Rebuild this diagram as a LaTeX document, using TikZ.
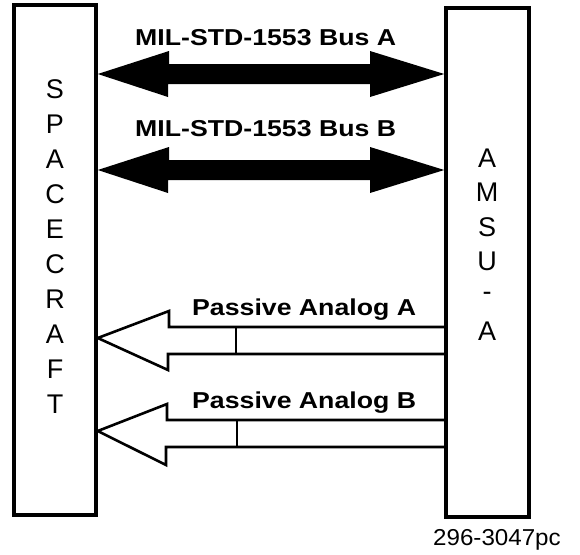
\documentclass[tikz,border=0pt]{standalone}
\usepackage{fontspec}
\setmainfont{Liberation Sans}
\newfontfamily\labfont{Liberation Sans}[FakeStretch=1.16]
\newfontfamily\numfont{Liberation Sans}[FakeStretch=1.05]
\begin{document}
\begin{tikzpicture}[x=1pt,y=-1pt,
  box/.style={draw,line width=3.5pt,minimum width=82pt,inner sep=0pt},
  boxletter/.style={font=\fontsize{27}{27}\selectfont,inner sep=0pt,anchor=center},
  buslabel/.style={font=\labfont\bfseries\fontsize{23}{23}\selectfont,inner sep=0pt,anchor=base west},
  busarrow/.style={fill=black},
  passarrow/.style={draw,line width=2.6pt,line join=miter,miter limit=3},
  divider/.style={draw,line width=2.6pt}]
\useasboundingbox (0,0) rectangle (580,554);
% boxes
\node[box,minimum height=510pt] (sc) at (55,260) {};
\node[box,minimum width=83pt,minimum height=509pt] (am) at (487.5,262.5) {};
% letters
\foreach \l [count=\i from 0] in {S,P,A,C,E,C,R,A,F,T}
  \node[boxletter] (sl\i) at (55,{89+35*\i}) {\l};
\foreach \l [count=\i from 0] in {A,M,S,U,-,A}
  \node[boxletter] (al\i) at (487,{158+34.6*\i}) {\l};
% bus labels
\node[buslabel] (busA) at (135,45) {MIL-STD-1553 Bus A};
\node[buslabel] (busB) at (135,136) {MIL-STD-1553 Bus B};
% bus arrows (double headed, filled)
\fill[busarrow] (sc.east |- 0,74) -- (169,51) -- (169,64) -- (370,64) -- (370,51)
  -- (am.west |- 0,74) -- (370,97) -- (370,84) -- (168,84) -- (168,97) -- cycle;
\fill[busarrow] (sc.east |- 0,170) -- (169,147) -- (169,160) -- (370,160) -- (370,147)
  -- (am.west |- 0,170) -- (370,193) -- (370,180) -- (168,180) -- (168,193) -- cycle;
% passive labels
\node[buslabel] (pasA) at (192,315) {Passive Analog A};
\node[buslabel] (pasB) at (192,408) {Passive Analog B};
% passive arrows (outlined)
\draw[passarrow] (am.west |- 0,327) -- (169,327) -- (169,311) -- (sc.east |- 0,338)
  -- (168,370) -- (168,354) -- (am.west |- 0,354);
\draw[divider] (236,327) -- (236,354);
\draw[passarrow] (am.west |- 0,420) -- (167,420) -- (167,404) -- (sc.east |- 0,431)
  -- (166,465) -- (166,447) -- (am.west |- 0,447);
\draw[divider] (237,420) -- (237,447);
% figure number
\node[font=\numfont\fontsize{23}{23}\selectfont,inner sep=0pt,anchor=base west] (fig) at (433,545) {296-3047pc};
\end{tikzpicture}
\end{document}
